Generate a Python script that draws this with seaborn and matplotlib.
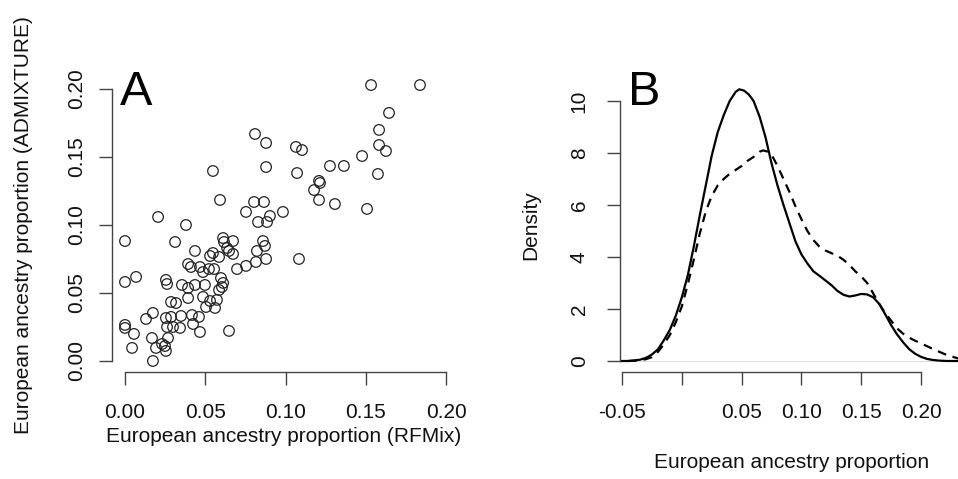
import matplotlib
matplotlib.use("Agg")
import matplotlib.pyplot as plt
import seaborn as sns
import pandas as pd

# European ancestry proportion per individual, estimated by two methods
rfmix = [
    0.0592, 0.0804, 0.0866, 0.0754, 0.0903, 0.0829, 0.0885, 0.0206, 0.0380, 0.0000,
    0.0312, 0.0611, 0.0617, 0.0673, 0.0860, 0.0872, 0.0436, 0.0548, 0.0530, 0.0586,
    0.0636, 0.0648, 0.0673, 0.0822, 0.0879, 0.0816, 0.0754, 0.0698, 0.0393, 0.0411,
    0.0467, 0.0486, 0.0523, 0.0555, 0.0000, 0.0069, 0.0255, 0.0262, 0.0355, 0.0393,
    0.0436, 0.0498, 0.0598, 0.0611, 0.0604, 0.0586, 0.0287, 0.0318, 0.0393, 0.0486,
    0.0530, 0.0573, 0.0505, 0.0561, 0.0131, 0.0174, 0.0255, 0.0287, 0.0349, 0.0417,
    0.0461, 0.0262, 0.0299, 0.0343, 0.0424, 0.0467, 0.0648, 0.0000, 0.0000, 0.0056,
    0.0168, 0.0268, 0.0044, 0.0193, 0.0231, 0.0249, 0.0255, 0.0174, 0.0984, 0.1533,
    0.1838, 0.1645, 0.1583, 0.1583, 0.1626, 0.1477, 0.1576, 0.0879, 0.1065, 0.1103,
    0.0879, 0.1072, 0.1277, 0.1364, 0.1209, 0.1215, 0.1178, 0.1209, 0.1308, 0.1508,
    0.1084, 0.0810, 0.0548,
]
admixture = [
    0.1184, 0.1169, 0.1169, 0.1096, 0.1066, 0.1022, 0.1022, 0.1059, 0.1000, 0.0882,
    0.0875, 0.0904, 0.0875, 0.0882, 0.0882, 0.0846, 0.0809, 0.0794, 0.0772, 0.0765,
    0.0831, 0.0809, 0.0787, 0.0809, 0.0750, 0.0728, 0.0699, 0.0676, 0.0713, 0.0691,
    0.0691, 0.0654, 0.0676, 0.0676, 0.0581, 0.0618, 0.0596, 0.0566, 0.0559, 0.0537,
    0.0559, 0.0559, 0.0610, 0.0574, 0.0544, 0.0522, 0.0434, 0.0426, 0.0463, 0.0471,
    0.0441, 0.0449, 0.0397, 0.0390, 0.0309, 0.0353, 0.0316, 0.0324, 0.0331, 0.0338,
    0.0324, 0.0250, 0.0250, 0.0243, 0.0272, 0.0213, 0.0221, 0.0265, 0.0243, 0.0199,
    0.0169, 0.0169, 0.0096, 0.0096, 0.0125, 0.0110, 0.0074, 0.0000, 0.1096, 0.2029,
    0.2029, 0.1824, 0.1699, 0.1588, 0.1544, 0.1507, 0.1375, 0.1603, 0.1574, 0.1551,
    0.1426, 0.1382, 0.1434, 0.1434, 0.1324, 0.1309, 0.1257, 0.1184, 0.1154, 0.1118,
    0.0750, 0.1669, 0.1397,
]

# Kernel density curves of the two estimates (solid: RFMix, dashed: ADMIXTURE)
rfmix_grid = [
    -0.052, -0.045, -0.040, -0.035, -0.030, -0.025, -0.020, -0.015, -0.010, -0.005,
    0.000, 0.005, 0.010, 0.015, 0.020, 0.025, 0.030, 0.035, 0.040, 0.045,
    0.048, 0.052, 0.056, 0.060, 0.065, 0.070, 0.075, 0.080, 0.085, 0.090,
    0.095, 0.100, 0.105, 0.110, 0.115, 0.120, 0.125, 0.130, 0.135, 0.140,
    0.145, 0.150, 0.155, 0.160, 0.165, 0.170, 0.175, 0.180, 0.185, 0.190,
    0.195, 0.200, 0.205, 0.210, 0.215, 0.222, 0.231,
]
rfmix_density = [
    0.0, 0.0, 0.02, 0.05, 0.12, 0.25, 0.45, 0.8, 1.2, 1.75,
    2.45, 3.3, 4.4, 5.6, 6.75, 7.9, 8.8, 9.45, 10.0, 10.35,
    10.45, 10.4, 10.25, 10.0, 9.4, 8.6, 7.6, 6.75, 6.0, 5.3,
    4.6, 4.1, 3.75, 3.45, 3.28, 3.1, 2.92, 2.7, 2.55, 2.48,
    2.52, 2.58, 2.56, 2.45, 2.2, 1.8, 1.38, 1.02, 0.72, 0.46,
    0.28, 0.16, 0.08, 0.04, 0.015, 0.0, 0.0,
]
admix_grid = [
    -0.045, -0.040, -0.035, -0.030, -0.025, -0.020, -0.015, -0.010, -0.005, 0.000,
    0.005, 0.010, 0.015, 0.020, 0.025, 0.030, 0.035, 0.040, 0.045, 0.050,
    0.055, 0.060, 0.065, 0.068, 0.072, 0.076, 0.080, 0.085, 0.090, 0.095,
    0.100, 0.105, 0.110, 0.115, 0.120, 0.125, 0.130, 0.135, 0.140, 0.145,
    0.150, 0.155, 0.160, 0.165, 0.170, 0.175, 0.180, 0.185, 0.190, 0.195,
    0.200, 0.205, 0.210, 0.215, 0.220, 0.225, 0.231,
]
admix_density = [
    0.0, 0.01, 0.03, 0.07, 0.15, 0.35, 0.65, 1.0, 1.5, 2.1,
    2.95, 3.9, 4.9, 5.75, 6.35, 6.75, 7.0, 7.2, 7.35, 7.5,
    7.7, 7.85, 8.05, 8.1, 8.05, 7.85, 7.5, 7.0, 6.5, 5.95,
    5.45, 5.0, 4.65, 4.4, 4.25, 4.15, 4.05, 3.9, 3.7, 3.45,
    3.25, 3.0, 2.6, 2.2, 1.85, 1.55, 1.25, 1.05, 0.9, 0.78,
    0.68, 0.57, 0.46, 0.36, 0.26, 0.18, 0.1,
]

scatter_ticks = [0.00, 0.05, 0.10, 0.15, 0.20]
scatter_ticklabels = ["0.00", "0.05", "0.10", "0.15", "0.20"]
dens_xticks = [-0.05, 0.00, 0.05, 0.10, 0.15, 0.20]
dens_xticklabels = ["-0.05", "", "0.05", "0.10", "0.15", "0.20"]
dens_yticks = [0, 2, 4, 6, 8, 10]

sns.set_style("ticks")
plt.rcParams["font.family"] = ["Liberation Sans", "DejaVu Sans"]

W, H = 958, 479
fig = plt.figure(figsize=(W / 100, H / 100), dpi=100)


def px_axes(left, right, top, bottom):
    return fig.add_axes([left / W, 1 - bottom / H, (right - left) / W, (bottom - top) / H])


def style_axis(ax, xb, yb, ypad):
    for side in ("top", "right"):
        ax.spines[side].set_visible(False)
    for side in ("left", "bottom"):
        ax.spines[side].set_color("#444444")
        ax.spines[side].set_linewidth(1.0)
    ax.spines["left"].set_bounds(*yb)
    ax.spines["bottom"].set_bounds(*xb)
    ax.tick_params(axis="both", length=9.5, width=1.0, color="#444444",
                   labelsize=15, labelcolor="#111111")
    ax.tick_params(axis="x", pad=13)
    ax.tick_params(axis="y", pad=ypad, labelrotation=90)
    for lab in ax.get_yticklabels():
        lab.set_va("center")


label_kw = dict(fontsize=15, color="#111111")

# Panel A: scatter of the two estimates
axA = px_axes(112, 456, 70, 372)
df = pd.DataFrame({"RFMix": rfmix, "ADMIXTURE": admixture})
sns.scatterplot(data=df, x="RFMix", y="ADMIXTURE", ax=axA, marker="o",
                facecolor="none", edgecolor="#222222", linewidth=0.9, s=58)
axA.set_xlim(-0.0081, -0.0081 + 344 / 1605)
axA.set_ylim(-0.0081, -0.0081 + 302 / 1360)
axA.set_xticks(scatter_ticks, scatter_ticklabels)
axA.set_yticks(scatter_ticks, scatter_ticklabels)
style_axis(axA, (0.0, 0.2), (0.0, 0.2), ypad=9)
axA.set_xlabel("European ancestry proportion (RFMix)", **label_kw)
axA.set_ylabel("European ancestry proportion (ADMIXTURE)", **label_kw)
axA.xaxis.set_label_coords(284 / W, 1 - 437 / H, transform=fig.transFigure)
axA.yaxis.set_label_coords(24 / W, 1 - 225 / H, transform=fig.transFigure)
axA.xaxis.label.set_va("center")
axA.yaxis.label.set_va("center")

# Panel B: density curves
axB = px_axes(620, 958, 78, 372)
axB.axhline(0, color="#cccccc", linewidth=0.5, zorder=0)
sns.lineplot(x=rfmix_grid, y=rfmix_density, ax=axB, color="black",
             linewidth=1.6, estimator=None, sort=False)
sns.lineplot(x=admix_grid, y=admix_density, ax=axB, color="black",
             linewidth=1.6, estimator=None, sort=False, linestyle=(0, (4, 3)))
axB.set_xlim(-0.0517, -0.0517 + 338 / 1196)
axB.set_ylim(-11 / 26, -11 / 26 + 294 / 26)
axB.set_xticks(dens_xticks, dens_xticklabels)
axB.set_yticks(dens_yticks, [str(v) for v in dens_yticks])
style_axis(axB, (-0.05, 0.20), (0, 10), ypad=13)
axB.set_xlabel("European ancestry proportion", **label_kw)
axB.set_ylabel("Density", **label_kw)
axB.xaxis.set_label_coords(792 / W, 1 - 463 / H, transform=fig.transFigure)
axB.yaxis.set_label_coords(531 / W, 1 - 225 / H, transform=fig.transFigure)
axB.xaxis.label.set_va("center")
axB.yaxis.label.set_va("center")

# Panel letters
fig.text(120 / W, 1 - 105 / H, "A", fontsize=35, va="baseline", ha="left", color="black")
fig.text(628 / W, 1 - 105 / H, "B", fontsize=35, va="baseline", ha="left", color="black")

fig.savefig("out.png", dpi=100)
